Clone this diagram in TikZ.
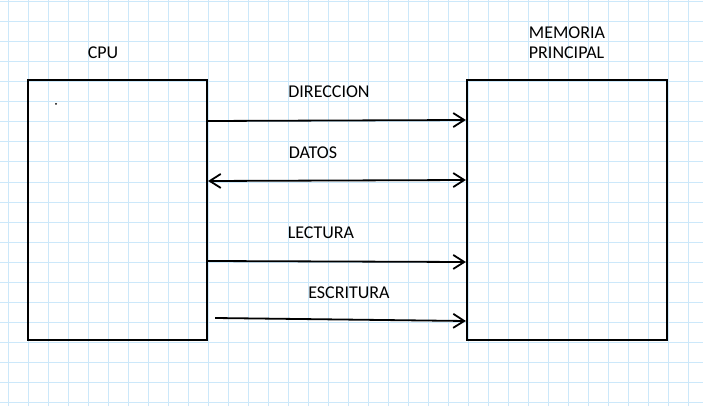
\documentclass[tikz,border=0pt]{standalone}
\usepackage{fontspec}
\setmainfont{Carlito}
\usetikzlibrary{arrows.meta}
\definecolor{gridblue}{RGB}{204,232,250}
\begin{document}
\begin{tikzpicture}[x=1pt,y=-1pt,
  box/.style={draw=black,line width=2.2pt,minimum width=179pt,minimum height=260pt,inner sep=0pt},
  lbl/.style={font=\fontsize{18pt}{21pt}\selectfont,inner sep=0pt,text=black},
  conn/.style={line width=1.8pt,-{Straight Barb[length=11pt,width=14pt,line width=1.8pt]}},
  bconn/.style={line width=1.8pt,{Straight Barb[length=11pt,width=14pt,line width=1.8pt]}-{Straight Barb[length=11pt,width=14pt,line width=1.8pt]}}]
\fill[white] (0,0) rectangle (703,406);
\useasboundingbox (0,0) rectangle (703,406);
\foreach \k in {0,...,34} {\draw[gridblue,line width=1pt] (8+20*\k,0) -- (8+20*\k,406);}
\foreach \k in {0,...,20} {\draw[gridblue,line width=1pt] (0,2+20*\k) -- (703,2+20*\k);}
\node[box] (cpu) at (117.5,210) {};
\node[box,minimum width=200pt] (mem) at (567,210) {};
\fill[black] (56,104) circle (1pt);
\node[lbl] (cpul) at (103,53) {CPU};
\node[lbl,align=left] (meml) at (567,43) {MEMORIA\\[-1pt]PRINCIPAL};
\node[lbl] (l1) at (329,92) {DIRECCION};
\node[lbl] (l2) at (313,153) {DATOS};
\node[lbl] (l3) at (321,233) {LECTURA};
\node[lbl] (l4) at (349,293) {ESCRITURA};
\draw[conn] ([yshift=89pt]cpu.east) -- ([yshift=90pt]mem.west);
\draw[bconn] ([yshift=29pt]cpu.east) -- ([yshift=30pt]mem.west);
\draw[conn] ([yshift=-51pt]cpu.east) -- ([yshift=-52pt]mem.west);
\draw[conn] ([xshift=7pt,yshift=-108pt]cpu.east) -- ([yshift=-111pt]mem.west);
\end{tikzpicture}
\end{document}
